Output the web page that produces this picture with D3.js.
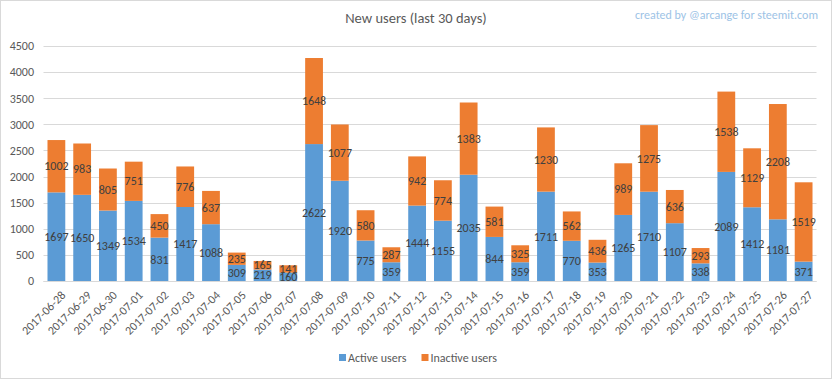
<!DOCTYPE html>
<html><head><meta charset="utf-8">
<script src="https://cdn.jsdelivr.net/npm/d3@7"></script>
<style>body{margin:0;background:#fff;}svg{display:block;font-family:Carlito,Lato,"Open Sans",sans-serif;}</style>
</head><body><svg id="c" width="832" height="379"></svg>
<script>
const dates = ["2017-06-28","2017-06-29","2017-06-30","2017-07-01","2017-07-02","2017-07-03","2017-07-04","2017-07-05","2017-07-06","2017-07-07","2017-07-08","2017-07-09","2017-07-10","2017-07-11","2017-07-12","2017-07-13","2017-07-14","2017-07-15","2017-07-16","2017-07-17","2017-07-18","2017-07-19","2017-07-20","2017-07-21","2017-07-22","2017-07-23","2017-07-24","2017-07-25","2017-07-26","2017-07-27"];
const activeUsers = [1697,1650,1349,1534,831,1417,1088,309,219,160,2622,1920,775,359,1444,1155,2035,844,359,1711,770,353,1265,1710,1107,338,2089,1412,1181,371];
const inactiveUsers = [1002,983,805,751,450,776,637,235,165,141,1648,1077,580,287,942,774,1383,581,325,1230,562,436,989,1275,636,293,1538,1129,2208,1519];
const yTicks = [0,500,1000,1500,2000,2500,3000,3500,4000,4500];
const seriesNames = ["Active users","Inactive users"];
const colors = ["#5b9bd5","#ed7d31"];

const svg = d3.select("#c");
svg.append("rect").attr("x",0.5).attr("y",0.5).attr("width",831).attr("height",378).attr("fill","#fff").attr("stroke","#d9d9d9");

const m = {l:43.5, r:816.5, t:46, b:281};
const x = d3.scaleBand().domain(dates).range([m.l,m.r]).paddingInner(0.31).paddingOuter(0.155);
const y = d3.scaleLinear().domain([0,4500]).range([m.b,m.t]);

// grid
svg.append("g").selectAll("line").data(yTicks).join("line")
  .attr("x1",m.l).attr("x2",m.r).attr("y1",d=>Math.round(y(d))+0.5).attr("y2",d=>Math.round(y(d))+0.5)
  .attr("stroke","#d9d9d9").attr("stroke-width",1);

const yAxis = d3.axisLeft(y).tickValues(yTicks).tickSize(0).tickPadding(0).tickFormat(d3.format("d"));
const ya = svg.append("g").attr("transform",`translate(34,0)`).call(yAxis);
ya.select(".domain").remove();
ya.selectAll("text").attr("fill","#595959").attr("font-size",12).attr("font-family","Carlito,Lato,sans-serif");

const rows = dates.map((d,i)=>({date:d, a:activeUsers[i], b:inactiveUsers[i]}));
const stack = d3.stack().keys(["a","b"])(rows);

const g = svg.append("g");
stack.forEach((s,k)=>{
  g.append("g").selectAll("rect").data(s).join("rect")
   .attr("x",d=>x(d.data.date)).attr("width",x.bandwidth())
   .attr("y",d=>y(d[1])).attr("height",d=>y(d[0])-y(d[1]))
   .attr("fill",colors[k]);
});
stack.forEach((s,k)=>{
  g.append("g").selectAll("text").data(s).join("text")
   .attr("x",d=>x(d.data.date)+x.bandwidth()/2)
   .attr("y",d=>(y(d[0])+y(d[1]))/2)
   .attr("dy","0.35em").attr("text-anchor","middle")
   .attr("font-size",12).attr("fill","#404040")
   .text(d=>d[1]-d[0]);
});

// x axis
svg.append("line").attr("x1",m.l).attr("x2",m.r).attr("y1",281.5).attr("y2",281.5).attr("stroke","#d9d9d9");
svg.append("g").selectAll("text").data(dates).join("text")
  .attr("transform",d=>`translate(${x(d)+x.bandwidth()/2+7},${293}) rotate(-45)`)
  .attr("text-anchor","end").attr("dy","0.35em")
  .attr("font-size",12).attr("fill","#595959").text(d=>d);

// title
svg.append("text").attr("x",416).attr("y",23).attr("text-anchor","middle")
  .attr("font-size",14.5).attr("fill","#595959").text("New users (last 30 days)");
svg.append("text").attr("x",818).attr("y",19).attr("text-anchor","end")
  .attr("font-size",12).attr("fill","#9dc3e6").text("created by @arcange for steemit.com");

// legend
const lg = svg.append("g");
const lx = [339, 421.5];
seriesNames.forEach((n,i)=>{
  lg.append("rect").attr("x",lx[i]).attr("y",354).attr("width",7).attr("height",7).attr("fill",colors[i]);
  lg.append("text").attr("x",lx[i]+9).attr("y",357.5).attr("dy","0.35em").attr("font-size",12).attr("fill","#595959").text(n);
});
</script></body></html>
